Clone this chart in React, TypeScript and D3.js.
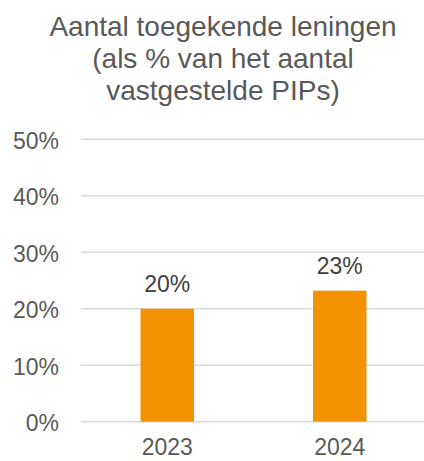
import { useRef, useEffect } from "react";
import * as d3 from "d3";

const years = ["2023", "2024"];
const shares = [0.2, 0.232];
const valueLabels = ["20%", "23%"];
const yTicks = [0, 0.1, 0.2, 0.3, 0.4, 0.5];
const titleLines = [
  "Aantal toegekende leningen",
  "(als % van het aantal",
  "vastgestelde PIPs)",
];

export default function App() {
  const ref = useRef<SVGSVGElement | null>(null);

  useEffect(() => {
    if (!ref.current) return;

    const width = 424;
    const height = 461;
    const font = "'Liberation Sans', Arial, sans-serif";
    const textColor = "#595959";

    const svg = d3.select(ref.current);
    svg.selectAll("*").remove();
    svg.attr("width", width).attr("height", height);

    const x = d3
      .scaleBand<string>()
      .domain(years)
      .range([81, 426])
      .paddingInner(0.69)
      .paddingOuter(0.345);

    const y = d3.scaleLinear().domain([0, 0.5]).range([421.7, 139.3]);

    // title
    svg
      .append("g")
      .selectAll("text")
      .data(titleLines)
      .join("text")
      .attr("x", 223)
      .attr("y", (_, i) => 36 + i * 32)
      .attr("text-anchor", "middle")
      .attr("font-family", font)
      .attr("font-size", 28)
      .attr("fill", textColor)
      .text((d) => d);

    // gridlines
    svg
      .append("g")
      .selectAll("line")
      .data(yTicks)
      .join("line")
      .attr("x1", 81)
      .attr("x2", width)
      .attr("y1", (d) => y(d))
      .attr("y2", (d) => y(d))
      .attr("stroke", "#d9d9d9")
      .attr("stroke-width", 1.4);

    // y tick labels
    svg
      .append("g")
      .selectAll("text")
      .data(yTicks)
      .join("text")
      .attr("x", 59)
      .attr("y", (d) => y(d) + 9.5)
      .attr("text-anchor", "end")
      .attr("font-family", font)
      .attr("font-size", 23)
      .attr("fill", textColor)
      .text((d) => d3.format(".0%")(d));

    // bars
    svg
      .append("g")
      .selectAll("rect")
      .data(shares)
      .join("rect")
      .attr("x", (_, i) => x(years[i]) ?? 0)
      .attr("width", x.bandwidth())
      .attr("y", (d) => y(d))
      .attr("height", (d) => y(0) - y(d))
      .attr("fill", "#f39200");

    // value labels
    svg
      .append("g")
      .selectAll("text")
      .data(shares)
      .join("text")
      .attr("x", (_, i) => (x(years[i]) ?? 0) + x.bandwidth() / 2)
      .attr("y", (d) => y(d) - 17)
      .attr("text-anchor", "middle")
      .attr("font-family", font)
      .attr("font-size", 23)
      .attr("fill", "#404040")
      .text((_, i) => valueLabels[i]);

    // x labels (nudged up so the descent stays inside the frame)
    svg
      .append("g")
      .selectAll("text")
      .data(years)
      .join("text")
      .attr("x", (d) => (x(d) ?? 0) + x.bandwidth() / 2)
      .attr("y", 455)
      .attr("text-anchor", "middle")
      .attr("font-family", font)
      .attr("font-size", 23)
      .attr("fill", textColor)
      .text((d) => d);
  }, []);

  return (
    <svg
      ref={ref}
      style={{ position: "absolute", left: 0, top: 0, display: "block" }}
    />
  );
}
